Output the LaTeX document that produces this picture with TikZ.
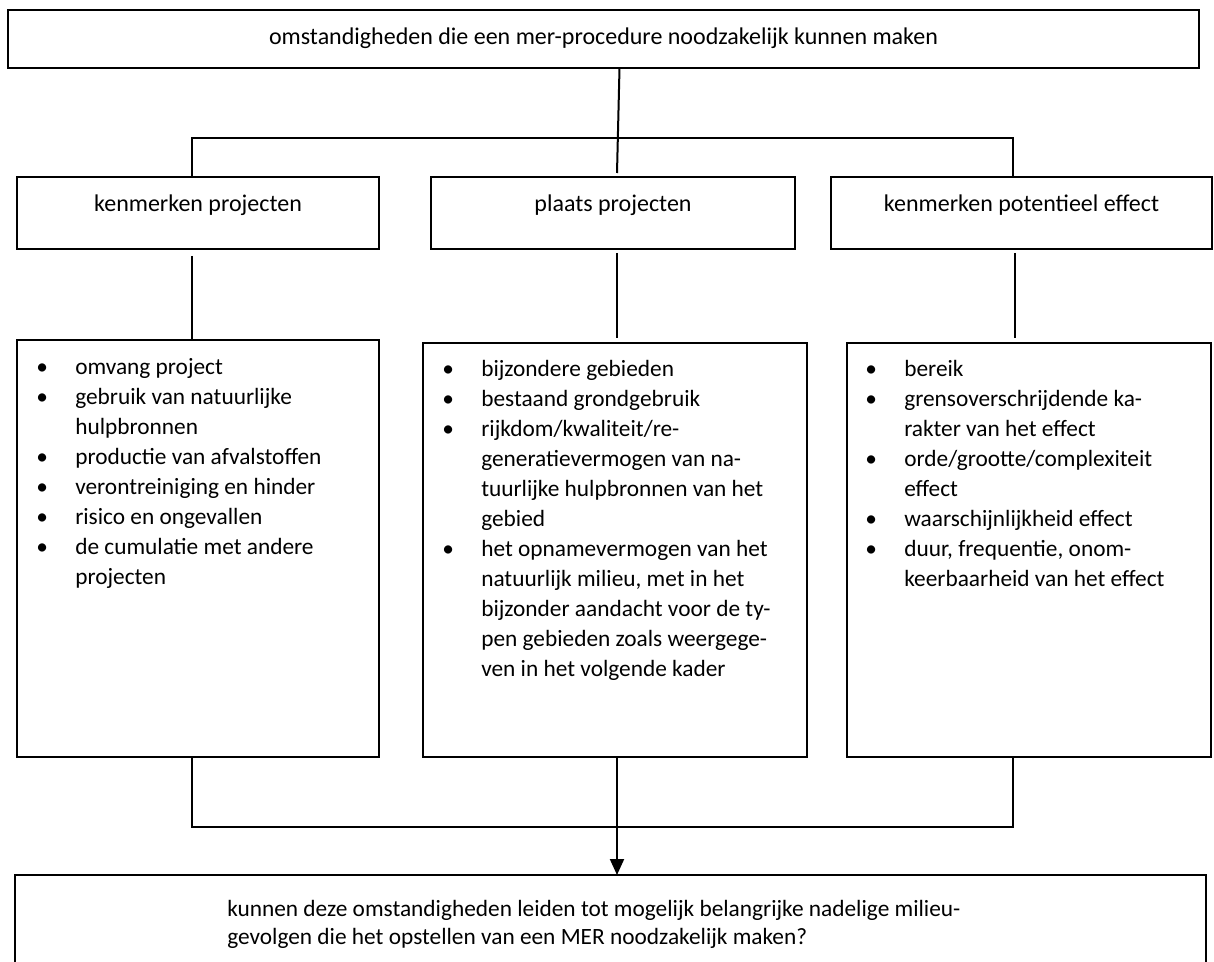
\documentclass[tikz,border=0pt]{standalone}
\usepackage{fontspec}
\setmainfont{Carlito}
\usetikzlibrary{arrows.meta,calc,fit}
\newcommand{\bl}{\makebox[0pt][c]{\textbullet}}
\begin{document}
\begin{tikzpicture}[x=0.75pt,y=-0.75pt,
  box/.style={draw, line width=1.5pt, inner sep=0pt, outer sep=0pt},
  conn/.style={line width=1.5pt},
  txt/.style={inner sep=0pt, font=\fontsize{18}{22.5}\selectfont},
  lst/.style={inner sep=0pt, anchor=north west, font=\fontsize{17.5}{22.5}\selectfont}
]
\clip (0,0) rectangle (1214,962);
\fill[white] (0,0) rectangle (1214,962);

% boxes
\node[box, fit={(8,10)(1199,68)}] (top) {};
\node[box, fit={(17,177)(379,249)}] (k1) {};
\node[box, fit={(431,177)(795,249)}] (k2) {};
\node[box, fit={(831,177)(1212,249)}] (k3) {};
\node[box, fit={(17,340)(379,757)}] (d1) {};
\node[box, fit={(423,343)(807,757)}] (d2) {};
\node[box, fit={(847,343)(1211,757)}] (d3) {};
\node[box, fit={(15,875)(1206,990)}] (q) {};

% titles
\node[txt, anchor=base] (ttop) at ($(top.north)+(0,35)$) {omstandigheden die een mer-procedure noodzakelijk kunnen maken};
\node[txt, anchor=base] (tk1) at ($(k1.north)+(0,34.5)$) {kenmerken projecten};
\node[txt, anchor=base] (tk2) at ($(k2.north)+(0,34.5)$) {plaats projecten};
\node[txt, anchor=base] (tk3) at ($(k3.north)+(0,34.5)$) {kenmerken potentieel effect};

% lists
\node[lst] (l1) at ($(d1.north west)+(25,13)$) {\begin{tabular}{@{}l@{\hspace{24.75pt}}l@{}}
\bl & omvang project\\
\bl & gebruik van natuurlijke\\
    & hulpbronnen\\
\bl & productie van afvalstoffen\\
\bl & verontreiniging en hinder\\
\bl & risico en ongevallen\\
\bl & de cumulatie met andere\\
    & projecten
\end{tabular}};
\node[lst] (l2) at ($(d2.north west)+(25,12)$) {\begin{tabular}{@{}l@{\hspace{24.75pt}}l@{}}
\bl & bijzondere gebieden\\
\bl & bestaand grondgebruik\\
\bl & rijkdom/kwaliteit/re-\\
    & generatievermogen van na-\\
    & tuurlijke hulpbronnen van het\\
    & gebied\\
\bl & het opnamevermogen van het\\
    & natuurlijk milieu, met in het\\
    & bijzonder aandacht voor de ty-\\
    & pen gebieden zoals weergege-\\
    & ven in het volgende kader
\end{tabular}};
\node[lst] (l3) at ($(d3.north west)+(24,12)$) {\begin{tabular}{@{}l@{\hspace{24.75pt}}l@{}}
\bl & bereik\\
\bl & grensoverschrijdende ka-\\
    & rakter van het effect\\
\bl & orde/grootte/complexiteit\\
    & effect\\
\bl & waarschijnlijkheid effect\\
\bl & duur, frequentie, onom-\\
    & keerbaarheid van het effect
\end{tabular}};
\node[lst] (lq) at ($(q.north west)+(212,21.5)$) {\renewcommand{\arraystretch}{0.93}\begin{tabular}{@{}l@{}}
kunnen deze omstandigheden leiden tot mogelijk belangrijke nadelige milieu-\\
gevolgen die het opstellen van een MER noodzakelijk maken?
\end{tabular}};

% junction coordinates
\coordinate (jc) at (617,173);
\coordinate (bl) at (192,138);
\coordinate (br) at (1013,138);
\coordinate (cl) at (192,827);
\coordinate (cr) at (1013,827);
\coordinate (cm) at (617,827);

% connectors top
\draw[conn] ($(top.south)+(16,0)$) -- (jc);
\draw[conn] (bl |- k1.north) -- (bl) -- (br) -- (br |- k3.north);
% row 2 to row 3
\draw[conn] ($(bl |- k1.south)+(0,7)$) -- (bl |- d1.north);
\draw[conn] ($(jc |- k2.south)+(0,4)$) -- ($(jc |- d2.north)+(0,-5)$);
\draw[conn] ($(1015,0 |- k3.south)+(0,4)$) -- ($(1015,0 |- d3.north)+(0,-5)$);
% bottom
\draw[conn] (cl |- d1.south) -- (cl) -- (cr) -- (cr |- d3.south);
\draw[conn, -{Triangle[length=12pt,width=10.5pt]}] (cm |- d2.south) -- (cm |- q.north);
\end{tikzpicture}
\end{document}
